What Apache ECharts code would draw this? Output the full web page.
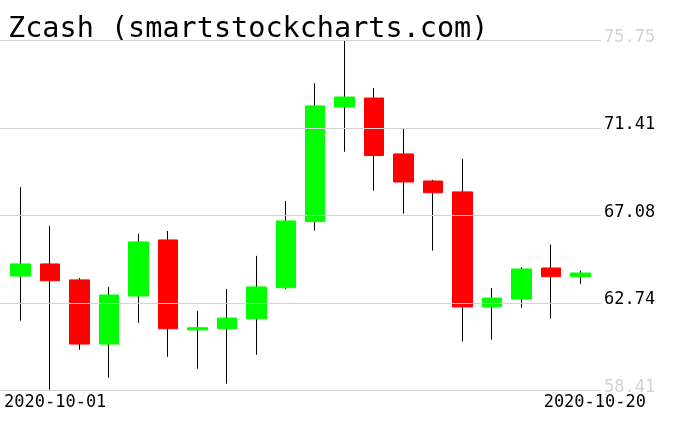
<!DOCTYPE html>
<html>
<head>
<meta charset="utf-8">
<script src="https://cdn.jsdelivr.net/npm/echarts@6/dist/echarts.min.js"></script>
<style>
html,body{margin:0;padding:0;background:#fff;}
#chart{width:676px;height:431px;}
</style>
</head>
<body>
<div id="chart"></div>
<script>
var titleText = 'Zcash (smartstockcharts.com)';
var dates = ['2020-10-01','2020-10-02','2020-10-03','2020-10-04','2020-10-05','2020-10-06','2020-10-07','2020-10-08','2020-10-09','2020-10-10',
             '2020-10-11','2020-10-12','2020-10-13','2020-10-14','2020-10-15','2020-10-16','2020-10-17','2020-10-18','2020-10-19','2020-10-20'];
var opens  = [64.07, 64.67, 63.88, 60.70, 63.08, 65.86, 61.40, 61.46, 61.96, 63.49, 66.77, 72.45, 72.89, 70.12, 68.78, 68.24, 62.54, 62.93, 64.47, 64.04];
var closes = [64.67, 63.84, 60.70, 63.13, 65.76, 61.46, 61.51, 61.99, 63.53, 66.80, 72.50, 72.94, 70.04, 68.73, 68.20, 62.54, 62.98, 64.42, 64.04, 64.22];
var lows   = [61.86, 58.44, 60.41, 59.03, 61.75, 60.07, 59.48, 58.74, 60.17, 63.43, 66.32, 70.23, 68.30, 67.16, 65.33, 60.82, 60.92, 62.50, 61.96, 63.69];
var highs  = [68.48, 66.55, 63.97, 63.53, 66.17, 66.30, 62.34, 63.43, 65.07, 67.79, 73.62, 75.72, 73.39, 71.39, 68.84, 69.87, 63.48, 64.52, 65.63, 64.34];
var yTickLabels = ['58.41', '62.74', '67.08', '71.41', '75.75'];
var yMin = 58.41, yMax = 75.75;

var full = dates.map(function (d, i) { return [opens[i], closes[i], lows[i], highs[i]]; });
var bodies = dates.map(function (d, i) {
  return [opens[i], closes[i], Math.min(opens[i], closes[i]), Math.max(opens[i], closes[i])];
});

var mono = 'DejaVu Sans Mono';
var chart = echarts.init(document.getElementById('chart'), null, {renderer: 'canvas'});
var option = {
  animation: false,
  backgroundColor: '#ffffff',
  title: {
    text: titleText,
    left: 3,
    top: 10,
    textStyle: {fontFamily: mono, fontSize: 28.5, fontWeight: 'normal', color: '#000'}
  },
  grid: [
    {left: 6, right: 81, top: 40.3, bottom: 40.7},
    {left: 0, right: 75, top: 40.3, bottom: 40.7}
  ],
  xAxis: [
    {type: 'category', gridIndex: 0, data: dates, boundaryGap: true,
     axisLine: {show: false}, axisTick: {show: false}, axisLabel: {show: false}, splitLine: {show: false}},
    {type: 'category', gridIndex: 1, data: dates, show: false}
  ],
  yAxis: [
    {type: 'value', gridIndex: 0, min: yMin, max: yMax, show: false, splitLine: {show: false}},
    {type: 'value', gridIndex: 1, min: yMin, max: yMax, interval: (yMax - yMin) / 4,
     position: 'right', z: 10,
     axisLine: {show: false}, axisTick: {show: false},
     splitLine: {show: true, lineStyle: {color: '#d3d3d3', width: 1}},
     axisLabel: {
       show: true, margin: 3, fontFamily: mono, fontSize: 17,
       verticalAlign: 'bottom', lineHeight: 6,
       formatter: function (v, i) { return yTickLabels[i]; },
       color: function (v, i) {
         return (i === 0 || i === yTickLabels.length - 1) ? '#d3d3d3' : '#000000';
       }
     }}
  ],
  series: [
    {type: 'candlestick', name: 'wick', xAxisIndex: 0, yAxisIndex: 0, data: full,
     barWidth: 1, z: 2, silent: true,
     itemStyle: {color: '#000', color0: '#000', borderColor: '#000', borderColor0: '#000', borderWidth: 1}},
    {type: 'candlestick', name: 'body', xAxisIndex: 0, yAxisIndex: 0, data: bodies,
     barWidth: 20, z: 3, silent: true,
     itemStyle: {color: '#00ff00', color0: '#ff0000', borderColor: '#00ff00', borderColor0: '#ff0000', borderWidth: 1}}
  ],
  graphic: [
    {type: 'text', left: 4, top: 394, z: 20,
     style: {text: dates[0], font: '17px "DejaVu Sans Mono"', fill: '#000'}},
    {type: 'text', right: 30, top: 394, z: 20,
     style: {text: dates[dates.length - 1], font: '17px "DejaVu Sans Mono"', fill: '#000'}}
  ]
};
chart.setOption(option);
</script>
</body>
</html>
